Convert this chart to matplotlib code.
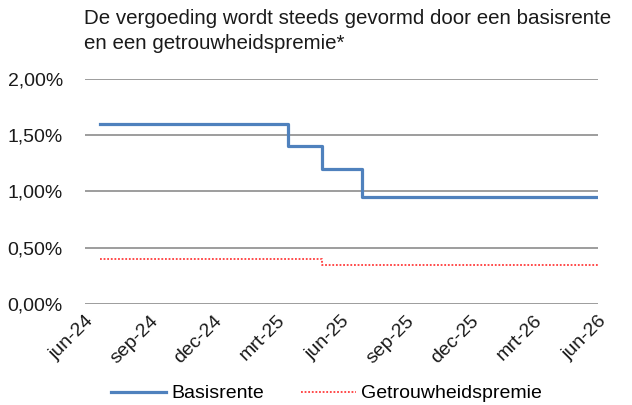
import pandas as pd
import matplotlib
matplotlib.use('Agg')
import matplotlib.pyplot as plt
from matplotlib.ticker import FuncFormatter

plt.rcParams['font.family'] = ['Liberation Sans', 'DejaVu Sans']

# basisrente (step, value holds until next date)
basis_dates = ['2024-06-22', '2025-03-17', '2025-05-04', '2025-06-30', '2026-06-01']
basis_vals = [1.60, 1.40, 1.20, 0.95, 0.95]

# getrouwheidspremie
premie_dates = ['2024-06-22', '2025-05-04', '2026-06-01']
premie_vals = [0.40, 0.35, 0.35]

tick_dates = ['2024-06-01', '2024-09-01', '2024-12-01', '2025-03-01', '2025-06-01',
              '2025-09-01', '2025-12-01', '2026-03-01', '2026-06-01']
tick_labels = ['jun-24', 'sep-24', 'dec-24', 'mrt-25', 'jun-25',
               'sep-25', 'dec-25', 'mrt-26', 'jun-26']

fig = plt.figure(figsize=(6.32, 4.05), dpi=100)
ax = fig.add_axes([0.1345, 0.2494, 0.8115, 0.5556])

ax.step(pd.to_datetime(basis_dates), basis_vals, where='post',
        color='#4f81bd', linewidth=2.3, label='Basisrente')
ax.step(pd.to_datetime(premie_dates), premie_vals, where='post',
        color='#ff3b3b', linewidth=1.3, linestyle=(0, (1, 1)), label='Getrouwheidspremie')

ax.set_xlim(pd.Timestamp('2024-06-01'), pd.Timestamp('2026-06-01'))
ax.set_ylim(0, 2.0)
ax.set_yticks([0, 0.5, 1.0, 1.5, 2.0])
ax.yaxis.set_major_formatter(FuncFormatter(lambda v, p: f'{v:.2f}%'.replace('.', ',')))
ax.set_xticks(pd.to_datetime(tick_dates))
ax.set_xticklabels(tick_labels, rotation=45, ha='right', rotation_mode='anchor')

ax.grid(axis='y', color='#8c8c8c', linewidth=1.2)
ax.set_axisbelow(True)
for s in ax.spines.values():
    s.set_visible(False)
ax.tick_params(length=0, labelsize=14, colors='#1a1a1a')
ax.tick_params(axis='y', pad=16)
ax.tick_params(axis='x', pad=6)

fig.text(0.133, 0.977, 'De vergoeding wordt steeds gevormd door een basisrente\nen een getrouwheidspremie*',
         ha='left', va='top', fontsize=14.8, color='#1a1a1a', linespacing=1.37)

fig.legend(loc='center', bbox_to_anchor=(0.517, 0.028), ncol=2, frameon=False,
           fontsize=14, handlelength=2.8, handletextpad=0.3, columnspacing=1.9)

fig.savefig('out.png', dpi=100)
